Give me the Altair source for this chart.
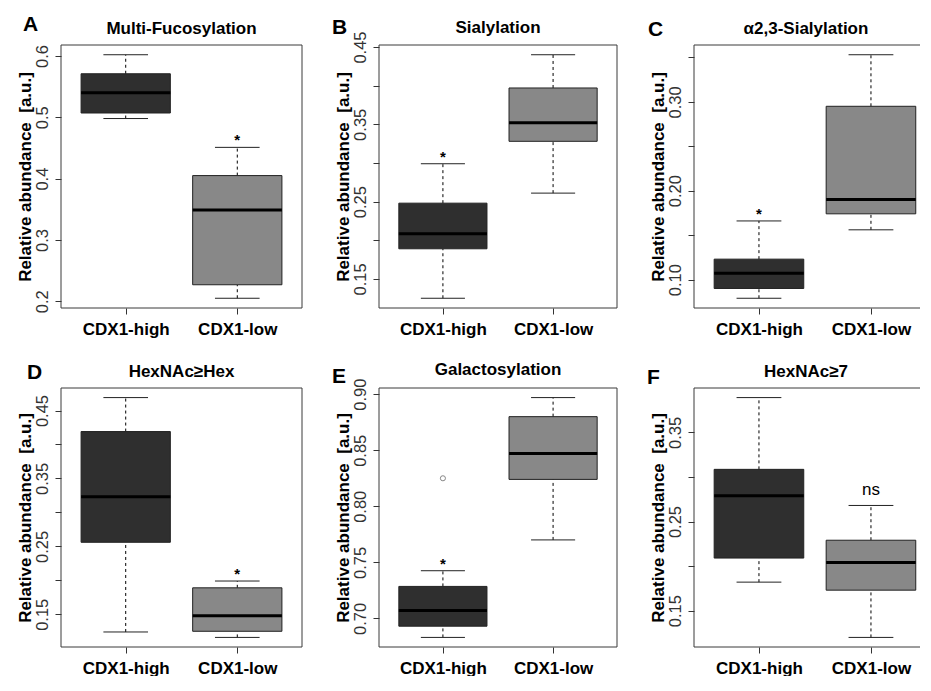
import altair as alt
import pandas as pd

FONT = "Liberation Sans"
GROUPS = ["CDX1-high", "CDX1-low"]
GROUP_POS = [1, 2]
COLORS = ["#2f2f2f", "#888888"]
PANELS = ["A", "B", "C", "D", "E", "F"]
TITLES = ["Multi-Fucosylation", "Sialylation", "α2,3-Sialylation",
          "HexNAc≥Hex", "Galactosylation", "HexNAc≥7"]

# box-plot statistics: [CDX1-high, CDX1-low]
WHISKER_LOW = {"A": [0.498, 0.205], "B": [0.125, 0.261], "C": [0.079, 0.156],
               "D": [0.124, 0.116], "E": [0.683, 0.770], "F": [0.182, 0.120]}
Q1 = {"A": [0.507, 0.227], "B": [0.189, 0.328], "C": [0.090, 0.174],
      "D": [0.256, 0.125], "E": [0.693, 0.824], "F": [0.209, 0.173]}
MEDIAN = {"A": [0.540, 0.349], "B": [0.2085, 0.352], "C": [0.107, 0.190],
          "D": [0.323, 0.148], "E": [0.707, 0.847], "F": [0.279, 0.204]}
Q3 = {"A": [0.571, 0.405], "B": [0.248, 0.397], "C": [0.123, 0.295],
      "D": [0.419, 0.189], "E": [0.7285, 0.880], "F": [0.3085, 0.229]}
WHISKER_HIGH = {"A": [0.602, 0.451], "B": [0.299, 0.440], "C": [0.166, 0.353],
                "D": [0.469, 0.199], "E": [0.7425, 0.897], "F": [0.389, 0.268]}
OUTLIER_GROUP = {"E": ["CDX1-high"]}
OUTLIER_VALUE = {"E": [0.825]}
SIGNIF_GROUP = {"A": "CDX1-low", "B": "CDX1-high", "C": "CDX1-high",
                "D": "CDX1-low", "E": "CDX1-high", "F": "CDX1-low"}
SIGNIF_TEXT = {"A": "*", "B": "*", "C": "*", "D": "*", "E": "*", "F": "ns"}

Y_TICKS = {"A": [0.2, 0.3, 0.4, 0.5, 0.6],
           "B": [0.15, 0.20, 0.25, 0.30, 0.35, 0.40, 0.45],
           "C": [0.10, 0.15, 0.20, 0.25, 0.30, 0.35],
           "D": [0.15, 0.20, 0.25, 0.30, 0.35, 0.40, 0.45],
           "E": [0.70, 0.75, 0.80, 0.85, 0.90],
           "F": [0.15, 0.20, 0.25, 0.30, 0.35]}
Y_LABELED = {"A": [0.2, 0.3, 0.4, 0.5, 0.6],
             "B": [0.15, 0.25, 0.35, 0.45],
             "C": [0.10, 0.20, 0.30],
             "D": [0.15, 0.25, 0.35, 0.45],
             "E": [0.70, 0.75, 0.80, 0.85, 0.90],
             "F": [0.15, 0.25, 0.35]}
Y_FORMAT = {"A": ".1f", "B": ".2f", "C": ".2f", "D": ".2f", "E": ".2f", "F": ".2f"}

FRAME = "#3a3a3a"


def make_panel(p, title, width, height, xmax, right_border, letter_xy, title_y):
    df = pd.DataFrame({
        "grp": GROUPS, "pos": GROUP_POS,
        "lo": WHISKER_LOW[p], "q1": Q1[p], "med": MEDIAN[p],
        "q3": Q3[p], "hi": WHISKER_HIGH[p],
    })
    df["bl"] = df["pos"] - 0.4
    df["br"] = df["pos"] + 0.4
    df["cl"] = df["pos"] - 0.2
    df["cr"] = df["pos"] + 0.2

    vals = list(df["lo"]) + list(df["hi"]) + OUTLIER_VALUE.get(p, [])
    lo, hi = min(vals), max(vals)
    r = hi - lo
    yscale = alt.Scale(domain=[lo - 0.04 * r, hi + 0.04 * r], nice=False, zero=False)
    xscale = alt.Scale(domain=[0.42, xmax], nice=False, zero=False)

    cond = " || ".join(f"abs(datum.value - {v}) < 1e-6" for v in Y_LABELED[p])
    yaxis = alt.Axis(
        values=Y_TICKS[p],
        labelExpr=f"({cond}) ? format(datum.value, '{Y_FORMAT[p]}') : ''",
        title="Relative abundance\u00a0 [a.u.]",
        grid=False, domain=False, ticks=True, tickSize=6, tickColor="#333333",
        labelAngle=270, labelAlign="center", labelBaseline="alphabetic",
        labelPadding=8, labelFont=FONT, labelFontSize=16.5, labelColor="#333333",
        labelOverlap=False, labelFlush=False,
        titleFont=FONT, titleFontSize=17, titleFontWeight="bold", titleColor="#000000",
        titleAngle=270, titleAlign="center", titleBaseline="alphabetic",
        titleX=-31, titleY=height / 2,
    )
    xaxis = alt.Axis(
        values=GROUP_POS,
        labelExpr="datum.value == 1 ? 'CDX1-high' : 'CDX1-low'",
        title=None, grid=False, domain=False, ticks=True, tickSize=6, tickColor="#333333",
        labelAngle=0, labelAlign="center", labelBaseline="top", labelPadding=7,
        labelFont=FONT, labelFontSize=17, labelFontWeight="bold", labelColor="#000000",
        labelOverlap=False, labelFlush=False,
    )

    def X(field):
        return alt.X(field, type="quantitative", scale=xscale, axis=xaxis)

    def Y(field):
        return alt.Y(field, type="quantitative", scale=yscale, axis=yaxis)

    base = alt.Chart(df)
    whisk_hi = base.mark_rule(color="#000000", strokeDash=[3, 3], strokeWidth=1).encode(
        x=X("pos"), y=Y("q3"), y2="hi:Q")
    whisk_lo = base.mark_rule(color="#000000", strokeDash=[3, 3], strokeWidth=1).encode(
        x=X("pos"), y=Y("lo"), y2="q1:Q")
    box = base.mark_rect(stroke="#222222", strokeWidth=1).encode(
        x=X("bl"), x2="br:Q", y=Y("q1"), y2="q3:Q",
        fill=alt.Fill("grp:N", scale=alt.Scale(domain=GROUPS, range=COLORS), legend=None))
    med = base.mark_rule(color="#000000", strokeWidth=3).encode(
        x=X("bl"), x2="br:Q", y=Y("med"))
    cap_hi = base.mark_rule(color="#222222", strokeWidth=1).encode(
        x=X("cl"), x2="cr:Q", y=Y("hi"))
    cap_lo = base.mark_rule(color="#222222", strokeWidth=1).encode(
        x=X("cl"), x2="cr:Q", y=Y("lo"))

    layers = [whisk_hi, whisk_lo, box, med, cap_hi, cap_lo]

    if p in OUTLIER_VALUE:
        odf = pd.DataFrame({"grp": OUTLIER_GROUP[p], "val": OUTLIER_VALUE[p]})
        odf["pos"] = [GROUP_POS[GROUPS.index(g)] for g in odf["grp"]]
        layers.append(alt.Chart(odf).mark_point(
            shape="circle", filled=False, size=26, color="#555555", strokeWidth=1).encode(
            x=X("pos"), y=Y("val")))

    g = SIGNIF_GROUP[p]
    gi = GROUPS.index(g)
    sdf = pd.DataFrame({"pos": [GROUP_POS[gi]], "val": [WHISKER_HIGH[p][gi]],
                        "txt": [SIGNIF_TEXT[p]]})
    is_star = SIGNIF_TEXT[p] == "*"
    layers.append(alt.Chart(sdf).mark_text(
        font=FONT, fontSize=15 if is_star else 17,
        fontWeight="bold" if is_star else "normal",
        baseline="alphabetic", align="center", dy=-2 if is_star else -10,
        color="#000000").encode(
        x=X("pos"), y=Y("val"), text="txt:N"))

    one = pd.DataFrame({"k": [0]})
    fr = alt.Chart(one)
    ext = 0 if right_border else 2
    layers.append(fr.mark_rule(color=FRAME, strokeWidth=1).encode(
        x=alt.value(0), y=alt.value(0), y2=alt.value(height)))
    layers.append(fr.mark_rule(color=FRAME, strokeWidth=1).encode(
        x=alt.value(0), x2=alt.value(width + ext), y=alt.value(0)))
    layers.append(fr.mark_rule(color=FRAME, strokeWidth=1).encode(
        x=alt.value(0), x2=alt.value(width + ext), y=alt.value(height)))
    if right_border:
        layers.append(fr.mark_rule(color=FRAME, strokeWidth=1).encode(
            x=alt.value(width), y=alt.value(0), y2=alt.value(height)))

    layers.append(fr.mark_text(text=title, font=FONT, fontSize=17, fontWeight="bold",
                               align="center", baseline="alphabetic", color="#000000").encode(
        x=alt.value(width / 2), y=alt.value(title_y)))
    layers.append(fr.mark_text(text=p, font=FONT, fontSize=21, fontWeight="bold",
                               align="left", baseline="alphabetic", color="#000000").encode(
        x=alt.value(letter_xy[0]), y=alt.value(letter_xy[1])))

    return alt.layer(*layers).properties(width=width, height=height)


COL_W = [241, 238, 224]
COL_XMAX = [2.58, 2.58, 2.42]
ROW_H = [263, 259]
LETTER_XY = {"A": (-38, -14), "B": (-47, -11), "C": (-46, -9),
             "D": (-34, -9), "E": (-47, -5), "F": (-47, -4)}
TITLE_Y = {"A": -11, "B": -12, "C": -11, "D": -11, "E": -13, "F": -11}

panels = []
for i, p in enumerate(PANELS):
    col = i % 3
    row = i // 3
    panels.append(make_panel(p, TITLES[i], COL_W[col], ROW_H[row], COL_XMAX[col],
                             col < 2, LETTER_XY[p], TITLE_Y[p]))

chart = alt.concat(*panels, columns=3, spacing={"row": 80, "column": 77},
                   bounds="flush").properties(
    padding={"left": 7, "top": 6, "right": 0, "bottom": 0}
).configure_view(strokeWidth=0)

chart.save("out.html", embed_options={"renderer": "svg", "actions": False})
